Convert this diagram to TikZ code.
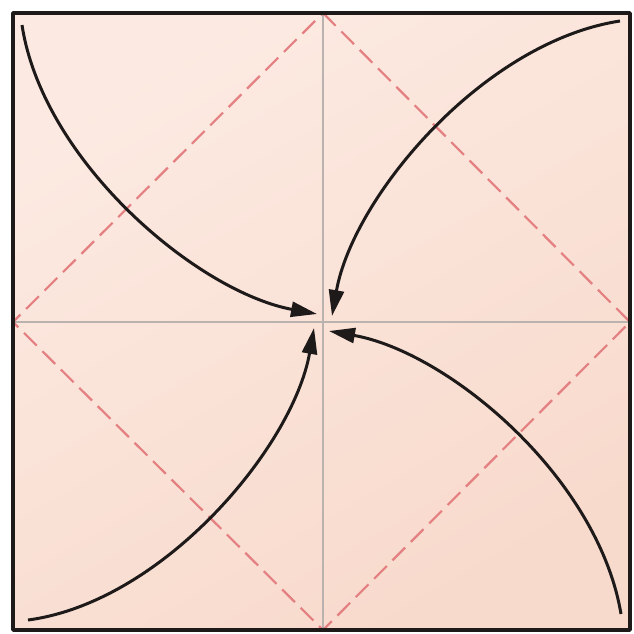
\documentclass[tikz,border=0pt]{standalone}
\usetikzlibrary{arrows.meta}
\definecolor{paper}{RGB}{248,218,204}
\definecolor{paperlight}{RGB}{252,234,226}
\definecolor{foldred}{RGB}{228,128,130}
\definecolor{creasegray}{RGB}{185,178,175}
\definecolor{ink}{RGB}{30,26,26}
\tikzset{
  valley/.style={draw=foldred, line width=2.2pt, dash pattern=on 18pt off 8pt},
  crease/.style={draw=creasegray, line width=1.3pt},
  movearrow/.style={draw=ink, line width=3pt, -{Triangle[length=26pt,width=15pt]}},
  edge/.style={draw=ink, line width=3.4pt, line join=round}
}
\begin{document}
\begin{tikzpicture}[x=1pt,y=-1pt]
\useasboundingbox (0,0) rectangle (634,633);
\fill[white] (0,0) rectangle (634,633);
% paper
\shade[top color=paperlight, bottom color=paper, shading angle=30] (13,13) rectangle (630,630);
\coordinate (C) at (323,322);
\coordinate (T) at (323,13);
\coordinate (B) at (323,630);
\coordinate (L) at (13,322);
\coordinate (R) at (630,322);
% creases
\draw[crease] (T) -- (B);
\draw[crease] (L) -- (R);
% valley diamond
\draw[valley] (T) -- (R) -- (B) -- (L) -- cycle;
% edges
\draw[edge] (13,13) rectangle (630,630);
% arrows
\begin{scope}[shift={(323,322)}]
\coordinate (s1) at (-301,-297);
\coordinate (e1) at (-6,-8);
\draw[movearrow] (s1) .. controls (-280,-160) and (-125,-30) .. (e1);
\coordinate (s2) at (297,-301);
\coordinate (e2) at (9,-6);
\draw[movearrow] (s2) .. controls (160,-280) and (30,-125) .. (e2);
\coordinate (s3) at (298,292);
\coordinate (e3) at (6,9);
\draw[movearrow] (s3) .. controls (275,155) and (125,30) .. (e3);
\coordinate (s4) at (-295,298);
\coordinate (e4) at (-9,6);
\draw[movearrow] (s4) .. controls (-160,280) and (-30,125) .. (e4);
\end{scope}
\end{tikzpicture}
\end{document}
